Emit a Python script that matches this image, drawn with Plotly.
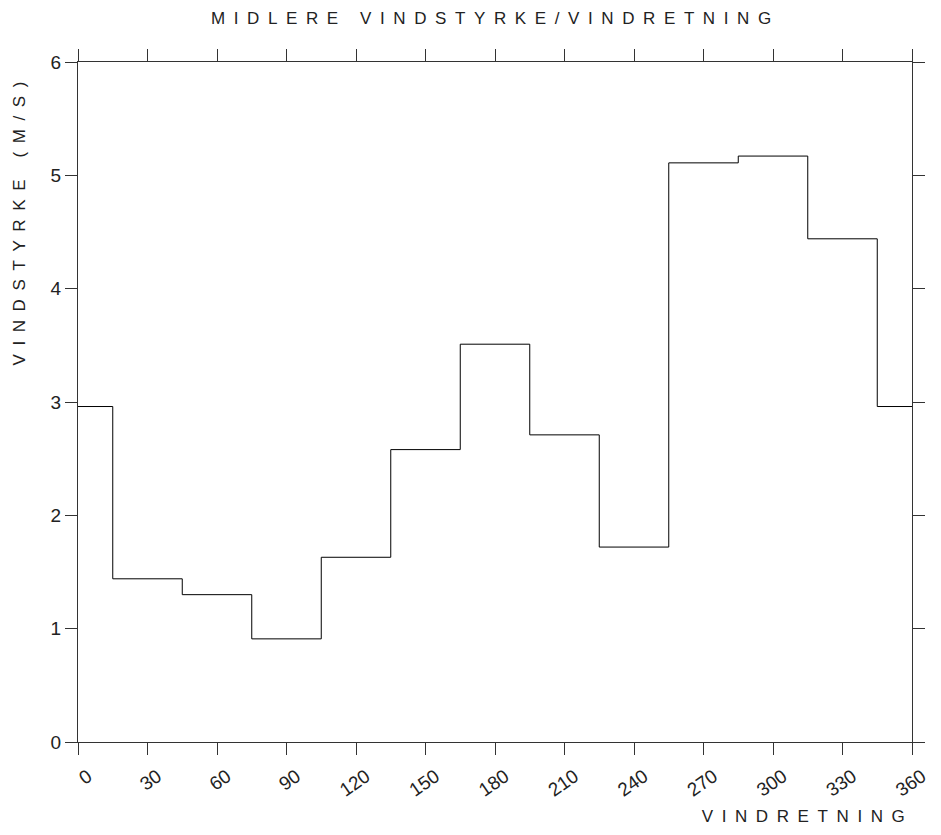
import plotly.graph_objects as go

# Wind direction sectors (centres, degrees) and mean wind speed (m/s)
sector_centres = [0, 30, 60, 90, 120, 150, 180, 210, 240, 270, 300, 330]
mean_speed = [2.96, 1.44, 1.30, 0.91, 1.63, 2.58, 3.51, 2.71, 1.72, 5.11, 5.17, 4.44]
sector_width = 30
x_ticks = [0, 30, 60, 90, 120, 150, 180, 210, 240, 270, 300, 330, 360]
y_ticks = [0, 1, 2, 3, 4, 5, 6]

title_text = "MIDLERE VINDSTYRKE/VINDRETNING"
x_title = "VINDRETNING"
y_title = "VINDSTYRKE (M/S)"

# Step outline: sector 0 wraps around (345..15)
half = sector_width / 2
xs = [0] + [c + half for c in sector_centres[:-1]] + [360 - half, 360]
ys = [mean_speed[0]] + mean_speed[1:] + [mean_speed[0], mean_speed[0]]

fig = go.Figure()
fig.add_trace(go.Scatter(x=xs, y=ys, mode="lines", line_shape="hv",
                         line=dict(color="black", width=1), showlegend=False,
                         hoverinfo="skip"))

font_family = "Liberation Sans"
text_color = "#222222"
axis_common = dict(showline=True, linecolor="#333333", linewidth=1, mirror="ticks",
                   ticks="outside", ticklen=12, tickcolor="#333333", tickwidth=1,
                   showgrid=False, zeroline=False,
                   tickfont=dict(family=font_family, size=19, color=text_color))

fig.update_layout(
    width=941, height=835,
    margin=dict(l=78, r=29, t=62, b=93),
    paper_bgcolor="white", plot_bgcolor="white",
    xaxis=dict(range=[0, 360], tickvals=x_ticks, tickangle=-35,
               ticklabelshift=10, ticklabelstandoff=3, **axis_common),
    yaxis=dict(range=[0, 6], tickvals=y_ticks, **axis_common),
    annotations=[
        dict(text=title_text, xref="paper", yref="paper", x=0.5, y=1, yshift=44,
             xanchor="center", yanchor="middle", showarrow=False,
             font=dict(family=font_family, size=17, color=text_color)),
        dict(text=x_title, xref="paper", yref="paper", x=0.875, y=0, yshift=-74,
             xanchor="center", yanchor="middle", showarrow=False,
             font=dict(family=font_family, size=17, color=text_color)),
        dict(text=y_title, xref="paper", yref="paper", x=0, xshift=-58, y=0.768,
             xanchor="center", yanchor="middle", textangle=-90, showarrow=False,
             font=dict(family=font_family, size=17, color=text_color)),
    ],
)

post = """
document.body.style.margin='0';
document.querySelectorAll('.annotation-text').forEach(function(e){e.style.letterSpacing='8.6px';});
"""
fig.write_html("out.html", post_script=post, config={"displayModeBar": False})
